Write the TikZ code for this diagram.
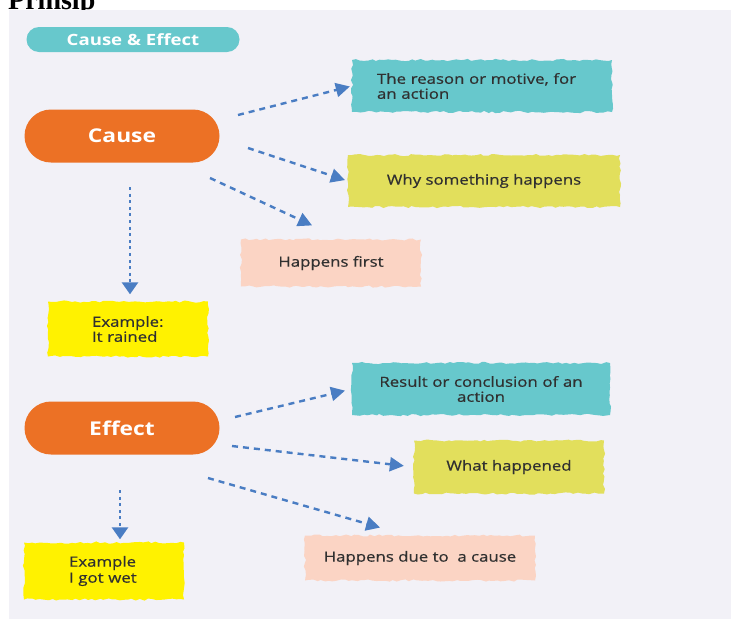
\documentclass[tikz,border=0pt]{standalone}
\usepackage{fontspec}
\setmainfont{Open Sans}[FakeStretch=1.2]
\newfontfamily\medfont{Open Sans}[FakeStretch=1.2, FakeBold=0.6]
\newfontfamily\titlefont{Liberation Serif}
\usetikzlibrary{arrows.meta,decorations.pathmorphing,calc}
\definecolor{panelc}{HTML}{F2F1F7}
\definecolor{tealc}{HTML}{67C8CC}
\definecolor{limec}{HTML}{E2DF5C}
\definecolor{peachc}{HTML}{FBD4C4}
\definecolor{yellowc}{HTML}{FFF200}
\definecolor{orangec}{HTML}{EC7125}
\definecolor{arrowc}{HTML}{4A7DC3}
\definecolor{txtc}{HTML}{303030}
\begin{document}
\begin{tikzpicture}[x=1pt,y=-1pt,
  pill/.style={fill=orangec, text=white, inner sep=0pt, minimum width=195pt, minimum height=53pt, rounded corners=26.5pt, font=\bfseries\fontsize{19}{19}\selectfont},
  tape/.style={fill=#1, decorate, decoration={random steps, segment length=4pt, amplitude=1.1pt}, inner sep=0pt, text=txtc, font=\medfont\fontsize{14}{15}\selectfont},
  arr/.style={draw=arrowc, line width=2.4pt, dash pattern=on 6pt off 5pt, -{Triangle[length=14pt,width=14pt]}},
  varr/.style={draw=arrowc, line width=2.8pt, dash pattern=on 3pt off 3.6pt, -{Triangle[length=12pt,width=16pt]}}]
\pgfmathsetseed{7}
\useasboundingbox (0,0) rectangle (741,619);
\fill[white] (0,0) rectangle (741,619);
\node[anchor=base west, inner sep=0pt, font=\titlefont\bfseries\fontsize{28}{28}\selectfont] (title) at (8,9) {Prinsip};
\fill[panelc] (9,10) rectangle (731,619);

% header pill
\node[fill=tealc, text=white, inner sep=0pt, minimum width=213pt, minimum height=25pt, rounded corners=12.5pt, font=\bfseries\fontsize{15.5}{15.5}\selectfont] (hdr) at (133,39.5) {Cause \& Effect};

% main pills
\node[pill] (cause) at (122,136) {Cause};
\node[pill] (effect) at (122,428) {Effect};

% tapes for Cause
\node[tape=tealc, minimum width=260pt, minimum height=52pt, text width=210pt, align=left] (b1) at (482,86) {The reason or motive, for\\an action};
\node[tape=limec, minimum width=272pt, minimum height=52pt] (b2) at (484,181) {Why something happens};
\node[tape=peachc, minimum width=180pt, minimum height=47pt] (b3) at (331,263) {Happens first};
\node[tape=yellowc, minimum width=160pt, minimum height=55pt, text width=72pt, align=left] (b4) at (128,329) {Example:\\It rained};

% tapes for Effect
\node[tape=tealc, minimum width=258pt, minimum height=52pt, text width=210pt, align=center] (b5) at (481,389) {Result or conclusion of an\\action};
\node[tape=limec, minimum width=190pt, minimum height=53pt] (b6) at (509,467) {What happened};
\node[tape=peachc, minimum width=230pt, minimum height=45pt] (b7) at (420,558) {Happens due to\ \ a cause};
\node[tape=yellowc, minimum width=160pt, minimum height=57pt, text width=70pt, align=left, font=\medfont\fontsize{14}{16}\selectfont] (b8) at (104,571) {Example\\I got wet};

% connector start points
\coordinate (s1) at (238,115);
\coordinate (s2) at (248,148);
\coordinate (s3) at (210,178);
\coordinate (s4) at (130,187);
\coordinate (s5) at (235,417);
\coordinate (s6) at (232,446);
\coordinate (s7) at (208,478);
\coordinate (s8) at (120,490);

\draw[arr, shorten >=2pt] (s1) -- (b1.west);
\draw[arr, shorten >=3pt] (s2) -- (b2.west);
\draw[arr, shorten >=33pt] (s3) -- ([xshift=11pt]b3.north);
\draw[varr, shorten >=7pt] (s4) -- (s4 |- b4.north);
\draw[arr, shorten >=7pt] (s5) -- (b5.west);
\draw[arr, shorten >=10pt] (s6) -- (b6.west);
\draw[arr, shorten >=28pt] (s7) -- ([xshift=-13pt]b7.north);
\draw[varr, shorten >=3pt] (s8) -- (s8 |- b8.north);
\end{tikzpicture}
\end{document}
